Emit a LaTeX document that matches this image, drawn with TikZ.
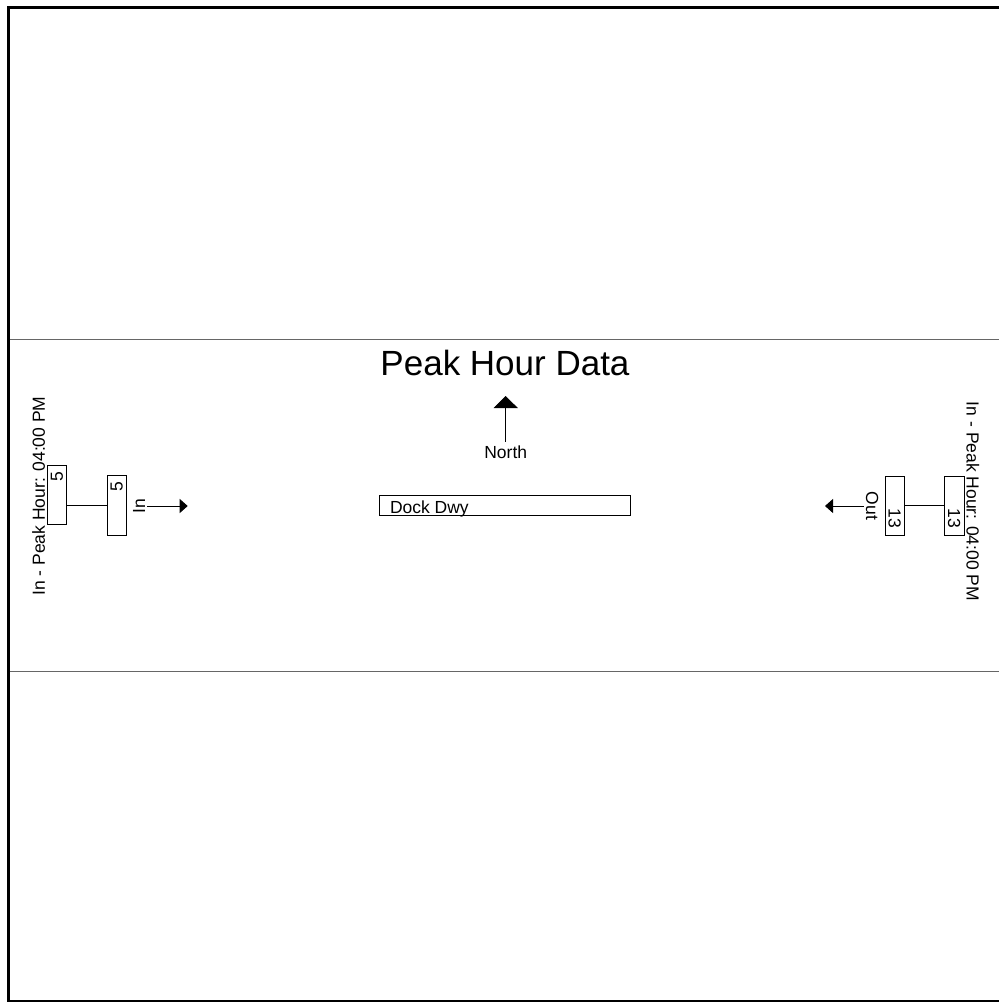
\documentclass[tikz,border=0pt]{standalone}
\usepackage{fontspec}
\setmainfont{Liberation Sans}
\usetikzlibrary{arrows.meta}

\begin{document}
\begin{tikzpicture}[x=1pt, y=-1pt, line width=0.8pt,
    lab/.style={font=\fontsize{17.5}{21}\selectfont, inner sep=0pt},
    volbox/.style={draw, minimum width=19.5pt, minimum height=59.5pt, inner sep=0pt},
    vol/.style={lab, anchor=east},
    flow/.style={-{Triangle[length=8pt,width=14pt]}, shorten <=1.5pt}]
  \def\Wpg{999}      % page width (px)
  \def\Hpg{1002}     % page height (px)
  \def\Ymid{506}     % y of the leg arrows

  \useasboundingbox (0,0) rectangle (\Wpg,\Hpg);

  % ----- frame -----
  \draw[line width=3pt] (\Wpg,7.5) -- (8.5,7.5) -- (8.5,1001.5) -- (\Wpg,1001.5);
  \draw[black!60, line width=1pt] (10,339) -- (\Wpg,339);
  \draw[black!60, line width=1pt] (10,671) -- (\Wpg,671);

  % ----- title -----
  \node[font=\fontsize{35}{42}\selectfont, inner sep=0pt, anchor=base] (title)
    at (505,375) {Peak Hour Data};
  \coordinate (ntip) at (505.7,396);
  \node[lab, anchor=base, outer sep=4pt] (nlbl) at (505.7,458.3) {North};
  \draw[-{Triangle[length=12pt,width=24pt]}] (nlbl) -- (ntip);

  % ----- Dock Dwy -----
  \node[draw, minimum width=251pt, minimum height=20.7pt, inner sep=0pt] (dock)
    at (504.5,505.3) {};
  \node[lab, anchor=base west] (docklbl)
    at ([xshift=11pt, yshift=2.4pt]dock.south west) {Dock Dwy};

  % ----- west leg -----
  \node[lab, rotate=90, anchor=base] (wpeak) at (45,496) {In - Peak Hour: 04:00 PM};
  \node[volbox] (wtot) at (57,494.7) {};
  \node[volbox] (win) at (116.7,505.5) {};
  \node[vol, rotate=90] (wtotv) at ([yshift=-6.5pt]wtot.north) {5};
  \node[vol, rotate=90] (winv) at ([yshift=-6pt]win.north) {5};
  \draw (wtot.east |- win) -- (win);
  \node[lab, rotate=90, anchor=base] (winlbl) at (145,\Ymid) {In};
  \coordinate (wtip) at (187.7,\Ymid);
  \draw[flow] (winlbl) -- (wtip);

  % ----- east leg -----
  \node[lab, rotate=-90, anchor=base] (epeak) at (966.7,501.5) {In - Peak Hour: 04:00 PM};
  \node[volbox] (eout) at (894.7,505.7) {};
  \node[volbox] (etot) at (954.2,505.7) {};
  \node[vol, rotate=-90] (eoutv) at ([yshift=7pt]eout.south) {13};
  \node[vol, rotate=-90] (etotv) at ([yshift=7pt]etot.south) {13};
  \draw (eout) -- (etot);
  \node[lab, rotate=-90, anchor=base] (eoutlbl) at (866,\Ymid) {Out};
  \coordinate (etip) at (825,\Ymid);
  \draw[flow] (eoutlbl) -- (etip);
\end{tikzpicture}
\end{document}
